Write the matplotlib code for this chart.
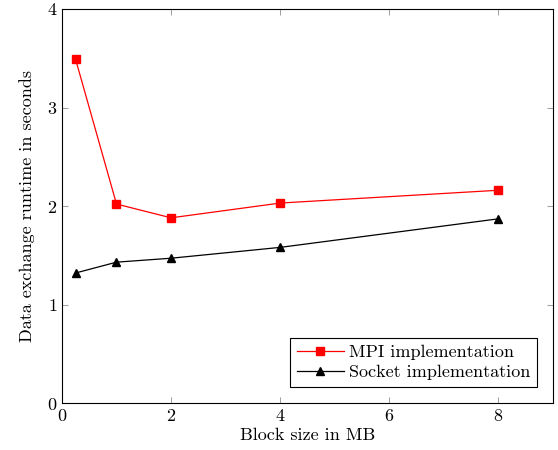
import matplotlib
matplotlib.use("Agg")
import matplotlib.pyplot as plt

plt.rcParams['font.family'] = 'serif'
plt.rcParams['font.serif'] = ['cmr10', 'DejaVu Serif']
plt.rcParams['mathtext.fontset'] = 'cm'
plt.rcParams['axes.formatter.use_mathtext'] = True

# data
block_size = [0.25, 1, 2, 4, 8]
mpi_runtime = [3.49, 2.02, 1.88, 2.03, 2.16]
socket_runtime = [1.32, 1.43, 1.47, 1.58, 1.87]

fig = plt.figure(figsize=(5.58, 4.5), dpi=100)
ax = fig.add_axes([0.111, 0.1044, 0.880, 0.8756])

ax.plot(block_size, mpi_runtime, color='red', lw=0.9, marker='s', ms=5.5,
        label='MPI implementation')
ax.plot(block_size, socket_runtime, color='black', lw=0.9, marker='^', ms=5.5,
        label='Socket implementation')

ax.set_xlim(0, 9)
ax.set_ylim(0, 4)
ax.set_xticks([0, 2, 4, 6, 8])
ax.set_yticks([0, 1, 2, 3, 4])
ax.tick_params(direction='in', top=True, right=True, length=4, width=0.5,
               color='#777777', labelsize=13)
for s in ax.spines.values():
    s.set_linewidth(0.8)

ax.set_xlabel('Block size in MB', fontsize=13, labelpad=3)
ax.set_ylabel('Data exchange runtime in seconds', fontsize=13, labelpad=8)

leg = ax.legend(loc='lower right', fontsize=13, fancybox=False, framealpha=1,
                edgecolor='black', handlelength=2.6, borderpad=0.35,
                labelspacing=0.25, handletextpad=0.3, borderaxespad=0.9)
leg.get_frame().set_linewidth(0.8)

fig.savefig('out.png', dpi=100)
